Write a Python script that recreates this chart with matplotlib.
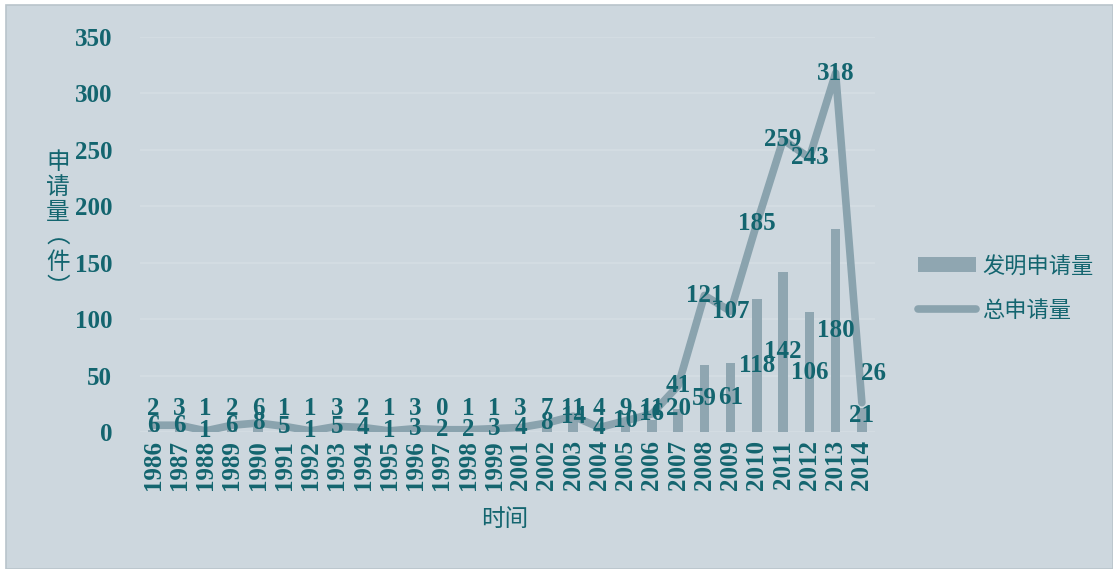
import matplotlib
matplotlib.use('Agg')
import matplotlib.pyplot as plt
from matplotlib.patches import Rectangle
from matplotlib.lines import Line2D
import numpy as np

years = ['1986', '1987', '1988', '1989', '1990', '1991', '1992', '1993', '1994',
         '1995', '1996', '1997', '1998', '1999', '2001', '2002', '2003', '2004',
         '2005', '2006', '2007', '2008', '2009', '2010', '2011', '2012', '2013', '2014']
invention = [2, 3, 1, 2, 6, 1, 1, 3, 2, 1, 3, 0, 1, 1, 3, 7, 11, 4, 9, 11,
             20, 59, 61, 118, 142, 106, 180, 21]
total = [6, 6, 1, 6, 8, 5, 1, 5, 4, 1, 3, 2, 2, 3, 4, 8, 14, 4, 10, 16,
         41, 121, 107, 185, 259, 243, 318, 26]

bg = '#cdd7de'
bar_c = '#8fa6b1'
line_c = '#8aa3ae'
txt_c = '#13656f'
num_font = dict(family='Liberation Serif', weight='bold', size=18, color=txt_c)
cjk = ['Noto Sans CJK SC', 'DejaVu Sans']

fig = plt.figure(figsize=(11.13, 5.69), dpi=100, facecolor='white')
fig.patches.append(Rectangle((6/1113, 0), 1 - 6/1113, 1 - 5/569, transform=fig.transFigure,
                             facecolor=bg, edgecolor='#b9c4cb', linewidth=1.2, zorder=-10))

ax = fig.add_axes([140/1113, 1 - 432/569, (875 - 140)/1113, (432 - 37)/569])
ax.set_facecolor('none')
x = np.arange(len(years))

ax.bar(x, invention, width=0.36, color=bar_c, zorder=2)
ax.plot(x, total, color=line_c, linewidth=5.5, solid_capstyle='round', zorder=3)

# data labels
for i in range(len(years)):
    ly = max(invention[i] / 2, 21)
    if i == len(years) - 1:
        ly = 15
    ax.text(x[i], ly, str(invention[i]), ha='center', va='center', zorder=5, **num_font)
    if i == len(years) - 1:
        ax.text(x[i] + 0.45, 52, str(total[i]), ha='center', va='center', zorder=5, **num_font)
    else:
        ax.text(x[i], total[i], str(total[i]), ha='center', va='center', zorder=5, **num_font)

ax.set_xlim(-0.5, len(years) - 0.5)
ax.set_ylim(0, 350)
ax.set_yticks(range(0, 351, 50))
ax.set_xticks(x)
ax.set_xticklabels(years, rotation=90)
for lab in ax.get_xticklabels() + ax.get_yticklabels():
    lab.set_fontfamily('Liberation Serif')
    lab.set_fontweight('bold')
    lab.set_fontsize(18)
    lab.set_color(txt_c)
ax.tick_params(axis='both', length=0)
ax.tick_params(axis='y', pad=20)
ax.tick_params(axis='x', pad=6)
ax.grid(axis='y', color='#d5dee3', linewidth=1.2, zorder=0)
for s in ax.spines.values():
    s.set_visible(False)

fig.text(58/1113, 1 - 225/569, '\n'.join(['申', '请', '量', '︵', '件', '︶']),
         ha='center', va='center', family=cjk, fontsize=17, color=txt_c, linespacing=1.12)
fig.text(505/1113, 1 - 520/569, '时间', ha='center', va='center',
         family=cjk, fontsize=17, color=txt_c)

handles = [Rectangle((0, 0), 1, 1, facecolor=bar_c),
           Line2D([0], [0], color=line_c, linewidth=5.5, solid_capstyle='round')]
leg = fig.legend(handles, ['发明申请量', '总申请量'], loc='center left',
                 bbox_to_anchor=(898/1113, 1 - 288/569), frameon=False,
                 prop={'family': cjk, 'size': 16}, handlelength=2.6,
                 labelspacing=0.95, handletextpad=0.3)
for t in leg.get_texts():
    t.set_color(txt_c)

fig.savefig('out.png', dpi=100, facecolor=fig.get_facecolor())
